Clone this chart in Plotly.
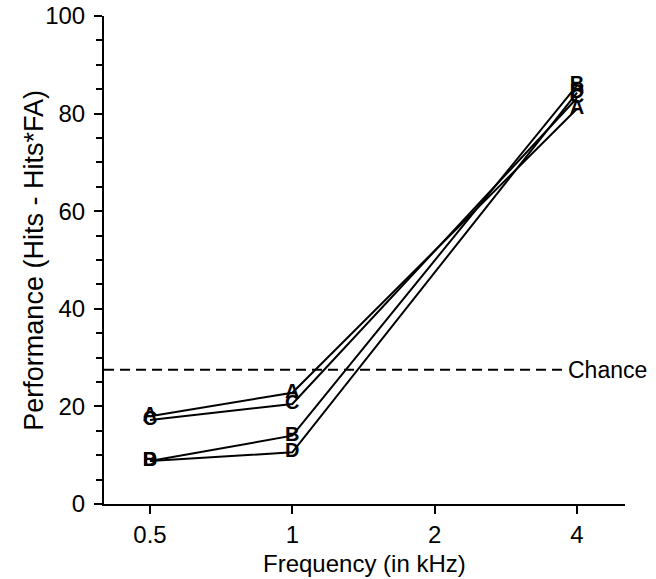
import math
import plotly.graph_objects as go

freqs = [0.5, 1, 4]
series = {
    "A": [18.0, 22.8, 81.0],
    "B": [8.8, 14.0, 85.8],
    "C": [17.2, 20.5, 83.2],
    "D": [8.8, 10.6, 84.3],
}
chance = 27.5
x_ticks = [0.5, 1, 2, 4]
x_ticklabels = ["0.5", "1", "2", "4"]

FONT = "Liberation Sans, Arial, sans-serif"

fig = go.Figure()
for name, vals in series.items():
    fig.add_trace(go.Scatter(
        x=freqs, y=vals, mode="lines+text",
        text=["<b>%s</b>" % name] * len(vals), textposition="middle center",
        textfont=dict(family=FONT, size=20, color="black"),
        line=dict(color="black", width=2),
        showlegend=False, cliponaxis=False,
    ))

# chance level
fig.add_shape(type="line", xref="paper", x0=0, x1=0.879, yref="y", y0=chance, y1=chance,
              line=dict(color="black", width=2, dash="10px,6px"))
fig.add_annotation(text="Chance", xref="paper", x=0.887, yref="y", y=chance,
                   xanchor="left", yanchor="middle", showarrow=False,
                   font=dict(family=FONT, size=23, color="black"))

# axis titles placed by hand (paper units relative to the plot area)
fig.add_annotation(text="Frequency (in kHz)", xref="paper", x=0.5, yref="paper", y=-0.122,
                   xanchor="center", yanchor="middle", showarrow=False,
                   font=dict(family=FONT, size=24, color="black"))
fig.add_annotation(text="Performance (Hits - Hits*FA)", xref="paper", x=-0.135, yref="paper", y=0.5,
                   xanchor="center", yanchor="middle", showarrow=False, textangle=-90,
                   font=dict(family=FONT, size=27, color="black"))

lo = math.log10(0.5) - 0.323 * math.log10(2)
hi = math.log10(4) + 0.337 * math.log10(2)

fig.update_layout(
    width=656, height=579,
    margin=dict(l=104, r=31, t=16, b=75),
    plot_bgcolor="white", paper_bgcolor="white",
    font=dict(family=FONT, color="black"),
    xaxis=dict(
        type="log", range=[lo, hi], automargin=False,
        tickmode="array", tickvals=x_ticks, ticktext=x_ticklabels,
        ticks="outside", ticklen=8, tickwidth=1.5, tickcolor="black",
        showline=True, linecolor="black", linewidth=2,
        showgrid=False, zeroline=False,
        tickfont=dict(size=24),
    ),
    yaxis=dict(
        range=[0, 100], tickmode="linear", tick0=0, dtick=20, automargin=False,
        ticks="outside", ticklen=8, tickwidth=1.5, tickcolor="black",
        ticklabelstandoff=4,
        minor=dict(dtick=5, ticks="outside", ticklen=6, tickwidth=1.5, tickcolor="black"),
        showline=True, linecolor="black", linewidth=2,
        showgrid=False, zeroline=False,
        tickfont=dict(size=24),
    ),
)

# drop the default page margin so the figure sits at the window's corner
fig.write_html("out.html", config={"displayModeBar": False},
               post_script="document.body.style.margin='0';")
